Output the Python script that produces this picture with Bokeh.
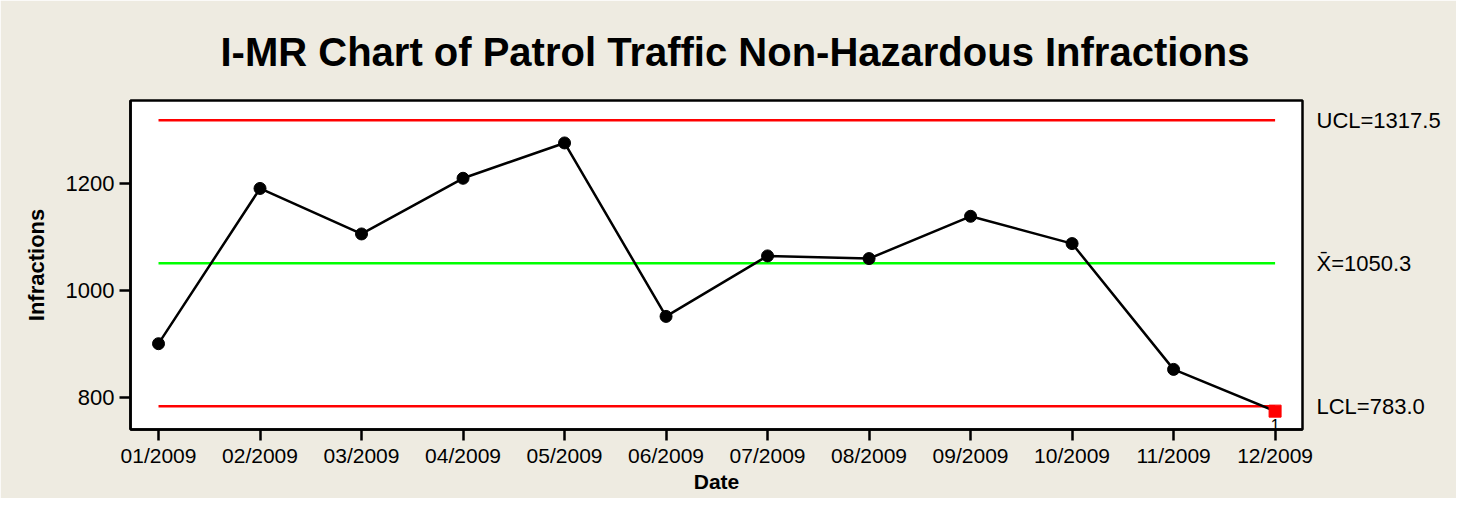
from bokeh.plotting import figure
from bokeh.models import Range1d, FixedTicker, LinearAxis, ColumnDataSource
from bokeh.core.properties import value
from bokeh.embed import file_html
from bokeh.resources import INLINE

# ---- data ----
months = ["01/2009", "02/2009", "03/2009", "04/2009", "05/2009", "06/2009",
          "07/2009", "08/2009", "09/2009", "10/2009", "11/2009", "12/2009"]
infractions = [900, 1190, 1105, 1209, 1275, 951, 1064, 1059, 1138, 1087, 852, 774]
ucl = 1317.5
center = 1050.3
lcl = 783.0
flagged = [12]          # point index (1-based) that breaks a test
flag_text = ["1"]
y_ticks = [800, 1000, 1200]

FONT = "Liberation Sans"
BG = "#EEEBE1"

xs = list(range(1, len(months) + 1))

p = figure(width=1456, height=498, output_backend="svg", toolbar_location=None,
           x_range=Range1d(0.724, 12.27), y_range=Range1d(739.7, 1354.3),
           min_border_left=130, min_border_right=154, min_border_top=97,
           min_border_bottom=69)
p.background_fill_color = "white"
p.border_fill_color = BG
p.outline_line_color = "black"
p.outline_line_width = 2.5
p.grid.visible = False

p.title.text = "I-MR Chart of Patrol Traffic Non-Hazardous Infractions"
p.title.text_font = FONT
p.title.text_font_size = "40px"
p.title.text_font_style = "bold"
p.title.text_line_height = 1.0
p.title.align = "left"
p.title.text_color = "black"
p.title.standoff = 54
p.title.offset = 90

# control lines
p.line([xs[0], xs[-1]], [ucl, ucl], line_color="#FF0000", line_width=2.5)
p.line([xs[0], xs[-1]], [lcl, lcl], line_color="#FF0000", line_width=2.5)
p.line([xs[0], xs[-1]], [center, center], line_color="#00FF00", line_width=2.5)

# data
src = ColumnDataSource(dict(x=xs, y=infractions))
p.line("x", "y", source=src, line_color="black", line_width=2.5)
normal_x = [x for x in xs if x not in flagged]
normal_y = [infractions[x - 1] for x in normal_x]
p.scatter(normal_x, normal_y, marker="circle", size=12, fill_color="black", line_color="black")
fy = [infractions[x - 1] for x in flagged]
p.scatter(flagged, fy, marker="square", size=12, fill_color="#FF0000", line_color="#FF0000")
p.text(flagged, fy, text=flag_text, text_font=value(FONT), text_font_size="16px",
       text_align="center", text_baseline="top", y_offset=8, text_color="black")

# axes
xa = p.xaxis[0]
xa.ticker = FixedTicker(ticks=xs)
xa.major_label_overrides = {x: m for x, m in zip(xs, months)}
xa.axis_label = "Date"
ya = p.yaxis[0]
ya.ticker = FixedTicker(ticks=y_ticks)
ya.axis_label = "Infractions"
for ax in (xa, ya):
    ax.axis_line_width = 2.5
    ax.axis_line_color = "black"
    ax.major_tick_line_width = 2.5
    ax.major_tick_line_color = "black"
    ax.major_tick_out = 11
    ax.major_tick_in = 0
    ax.minor_tick_line_color = None
    ax.major_label_text_font = FONT
    ax.major_label_text_font_size = "22px"
    ax.major_label_text_color = "black"
    ax.major_label_standoff = 5
    ax.axis_label_text_font = FONT
    ax.axis_label_text_font_size = "22px"
    ax.axis_label_text_font_style = "bold"
    ax.axis_label_text_color = "black"
ya.axis_label_standoff = 14
xa.major_label_text_font_size = "21px"
xa.axis_label_text_font_size = "21px"
xa.major_label_standoff = 3
xa.axis_label_standoff = 0

# right axis carrying the control-limit labels
ra = LinearAxis(ticker=FixedTicker(ticks=[lcl, center, ucl]))
ra.major_label_overrides = {lcl: "LCL=783.0", center: "X\u0304=1050.3", ucl: "UCL=1317.5"}
ra.axis_line_color = None
ra.major_tick_line_color = None
ra.minor_tick_line_color = None
ra.major_tick_out = 0
ra.major_tick_in = 0
ra.major_label_standoff = 14
ra.major_label_text_font = FONT
ra.major_label_text_font_size = "22px"
ra.major_label_text_color = "black"
p.add_layout(ra, "right")

open("out.html", "w").write(file_html(p, INLINE))
